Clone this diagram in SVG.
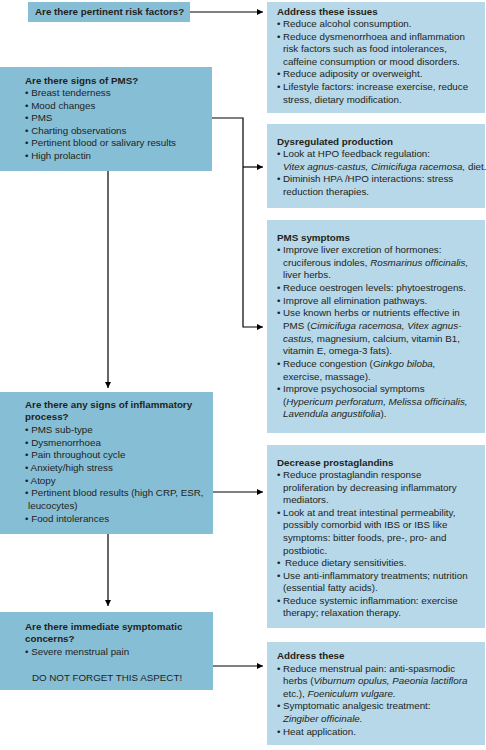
<svg xmlns="http://www.w3.org/2000/svg" width="486" height="750" viewBox="0 0 486 750">
<style>
text{font-family:"Liberation Sans",Arial,sans-serif;font-size:9.8px;fill:#231f20}
.b{font-weight:bold}
.i{font-style:italic}
.q{fill:#86bed6}
.a{fill:#b6d8e8}
.c{stroke:#000;stroke-width:1.2;fill:none}
</style>
<defs>
<marker id="ah" viewBox="0 0 10 10" refX="10" refY="5" markerWidth="8" markerHeight="6" markerUnits="userSpaceOnUse" orient="auto">
<path d="M0,0L10,5L0,10z" fill="#000"/>
</marker>
</defs>
<rect width="486" height="750" fill="#fff"/>

<g id="connectors">
<path class="c" d="M190,12H263" marker-end="url(#ah)"/>
<path class="c" d="M212,118H243V327H263" marker-end="url(#ah)"/>
<path class="c" d="M243,167H263" marker-end="url(#ah)"/>
<path class="c" d="M108,171V388" marker-end="url(#ah)"/>
<path class="c" d="M213,492H263" marker-end="url(#ah)"/>
<path class="c" d="M108,534V606" marker-end="url(#ah)"/>
<path class="c" d="M213,666H263" marker-end="url(#ah)"/>
</g>

<g id="risk">
<rect class="q" x="28" y="2" width="162" height="20"/>
<text class="b" x="35" y="15">Are there pertinent risk factors?</text>
</g>

<g id="address-issues">
<rect class="a" x="267" y="2" width="218" height="111"/>
<text class="b" x="277" y="14.5">Address these issues</text>
<text x="277" y="27">•</text><text x="283" y="27">Reduce alcohol consumption.</text>
<text x="277" y="39.6">•</text><text x="283" y="39.6">Reduce dysmenorrhoea and inflammation</text>
<text x="283" y="52.2">risk factors such as food intolerances,</text>
<text x="283" y="64.8">caffeine consumption or mood disorders.</text>
<text x="277" y="77.4">•</text><text x="283" y="77.4">Reduce adiposity or overweight.</text>
<text x="277" y="90">•</text><text x="283" y="90">Lifestyle factors: increase exercise, reduce</text>
<text x="283" y="102.6">stress, dietary modification.</text>
</g>

<g id="pms">
<rect class="q" x="0" y="67" width="212" height="104"/>
<text class="b" x="25" y="83.5">Are there signs of PMS?</text>
<text x="25" y="96">• Breast tenderness</text>
<text x="25" y="108.5">• Mood changes</text>
<text x="25" y="121">• PMS</text>
<text x="25" y="133.5">• Charting observations</text>
<text x="25" y="146">• Pertinent blood or salivary results</text>
<text x="25" y="158.5">• High prolactin</text>
</g>

<g id="dysregulated">
<rect class="a" x="267" y="124" width="218" height="84"/>
<text class="b" x="277" y="144.5">Dysregulated production</text>
<text x="277" y="157">•</text><text x="283" y="157">Look at HPO feedback regulation:</text>
<text x="283" y="169.5"><tspan class="i">Vitex agnus-castus, Cimicifuga racemosa,</tspan> diet.</text>
<text x="277" y="182">•</text><text x="283" y="182">Diminish HPA /HPO interactions: stress</text>
<text x="283" y="194.5">reduction therapies.</text>
</g>

<g id="pms-symptoms">
<rect class="a" x="267" y="220" width="218" height="213"/>
<text class="b" x="277" y="240.5">PMS symptoms</text>
<text x="277" y="253.1">•</text><text x="283" y="253.1">Improve liver excretion of hormones:</text>
<text x="283" y="265.8">cruciferous indoles, <tspan class="i">Rosmarinus officinalis,</tspan></text>
<text x="283" y="278.4">liver herbs.</text>
<text x="277" y="291">•</text><text x="283" y="291">Reduce oestrogen levels: phytoestrogens.</text>
<text x="277" y="303.7">•</text><text x="283" y="303.7">Improve all elimination pathways.</text>
<text x="277" y="316.3">•</text><text x="283" y="316.3">Use known herbs or nutrients effective in</text>
<text x="283" y="329">PMS (<tspan class="i">Cimicifuga racemosa, Vitex agnus-</tspan></text>
<text x="283" y="341.6"><tspan class="i">castus,</tspan> magnesium, calcium, vitamin B1,</text>
<text x="283" y="354.2">vitamin E, omega-3 fats).</text>
<text x="277" y="366.9">•</text><text x="283" y="366.9">Reduce congestion (<tspan class="i">Ginkgo biloba,</tspan></text>
<text x="283" y="379.5">exercise, massage).</text>
<text x="277" y="392.2">•</text><text x="283" y="392.2">Improve psychosocial symptoms</text>
<text x="283" y="404.8">(<tspan class="i">Hypericum perforatum, Melissa officinalis,</tspan></text>
<text x="283" y="417.4"><tspan class="i">Lavendula angustifolia</tspan>).</text>
</g>

<g id="inflammatory">
<rect class="q" x="0" y="392" width="213" height="142"/>
<text class="b" x="25" y="407.5">Are there any signs of inflammatory</text>
<text class="b" x="25" y="420.2">process?</text>
<text x="25" y="432.8">• PMS sub-type</text>
<text x="25" y="445.5">• Dysmenorrhoea</text>
<text x="25" y="458.2">• Pain throughout cycle</text>
<text x="25" y="470.8">• Anxiety/high stress</text>
<text x="25" y="483.5">• Atopy</text>
<text x="25" y="496.2">• Pertinent blood results (high CRP, ESR,</text>
<text x="28" y="508.8">leucocytes)</text>
<text x="25" y="521.5">• Food intolerances</text>
</g>

<g id="prostaglandins">
<rect class="a" x="267" y="445" width="218" height="183"/>
<text class="b" x="277" y="465.5">Decrease prostaglandins</text>
<text x="277" y="478.1">•</text><text x="283" y="478.1">Reduce prostaglandin response</text>
<text x="283" y="490.7">proliferation by decreasing inflammatory</text>
<text x="283" y="503.2">mediators.</text>
<text x="277" y="515.8">•</text><text x="283" y="515.8">Look at and treat intestinal permeability,</text>
<text x="283" y="528.4">possibly comorbid with IBS or IBS like</text>
<text x="283" y="541">symptoms: bitter foods, pre-, pro- and</text>
<text x="283" y="553.5">postbiotic.</text>
<text x="277" y="566.1">•</text><text x="285" y="566.1">Reduce dietary sensitivities.</text>
<text x="277" y="578.7">•</text><text x="283" y="578.7">Use anti-inflammatory treatments; nutrition</text>
<text x="283" y="591.3">(essential fatty acids).</text>
<text x="277" y="603.8">•</text><text x="283" y="603.8">Reduce systemic inflammation: exercise</text>
<text x="283" y="616.4">therapy; relaxation therapy.</text>
</g>

<g id="immediate">
<rect class="q" x="0" y="612" width="213" height="78"/>
<text class="b" x="25" y="629.5">Are there immediate symptomatic</text>
<text class="b" x="25" y="642">concerns?</text>
<text x="25" y="654.5">• Severe menstrual pain</text>
<text x="107" y="680.5" text-anchor="middle">DO NOT FORGET THIS ASPECT!</text>
</g>

<g id="address-these">
<rect class="a" x="267" y="642" width="218" height="103"/>
<text class="b" x="277" y="658.5">Address these</text>
<text x="277" y="671.5">•</text><text x="283" y="671.5">Reduce menstrual pain: anti-spasmodic</text>
<text x="283" y="684.1">herbs (<tspan class="i">Viburnum opulus, Paeonia lactiflora</tspan></text>
<text x="283" y="696.7">etc.), <tspan class="i">Foeniculum vulgare.</tspan></text>
<text x="277" y="709.3">•</text><text x="283" y="709.3">Symptomatic analgesic treatment:</text>
<text x="283" y="721.9"><tspan class="i">Zingiber officinale.</tspan></text>
<text x="277" y="734.5">•</text><text x="283" y="734.5">Heat application.</text>
</g>
</svg>
